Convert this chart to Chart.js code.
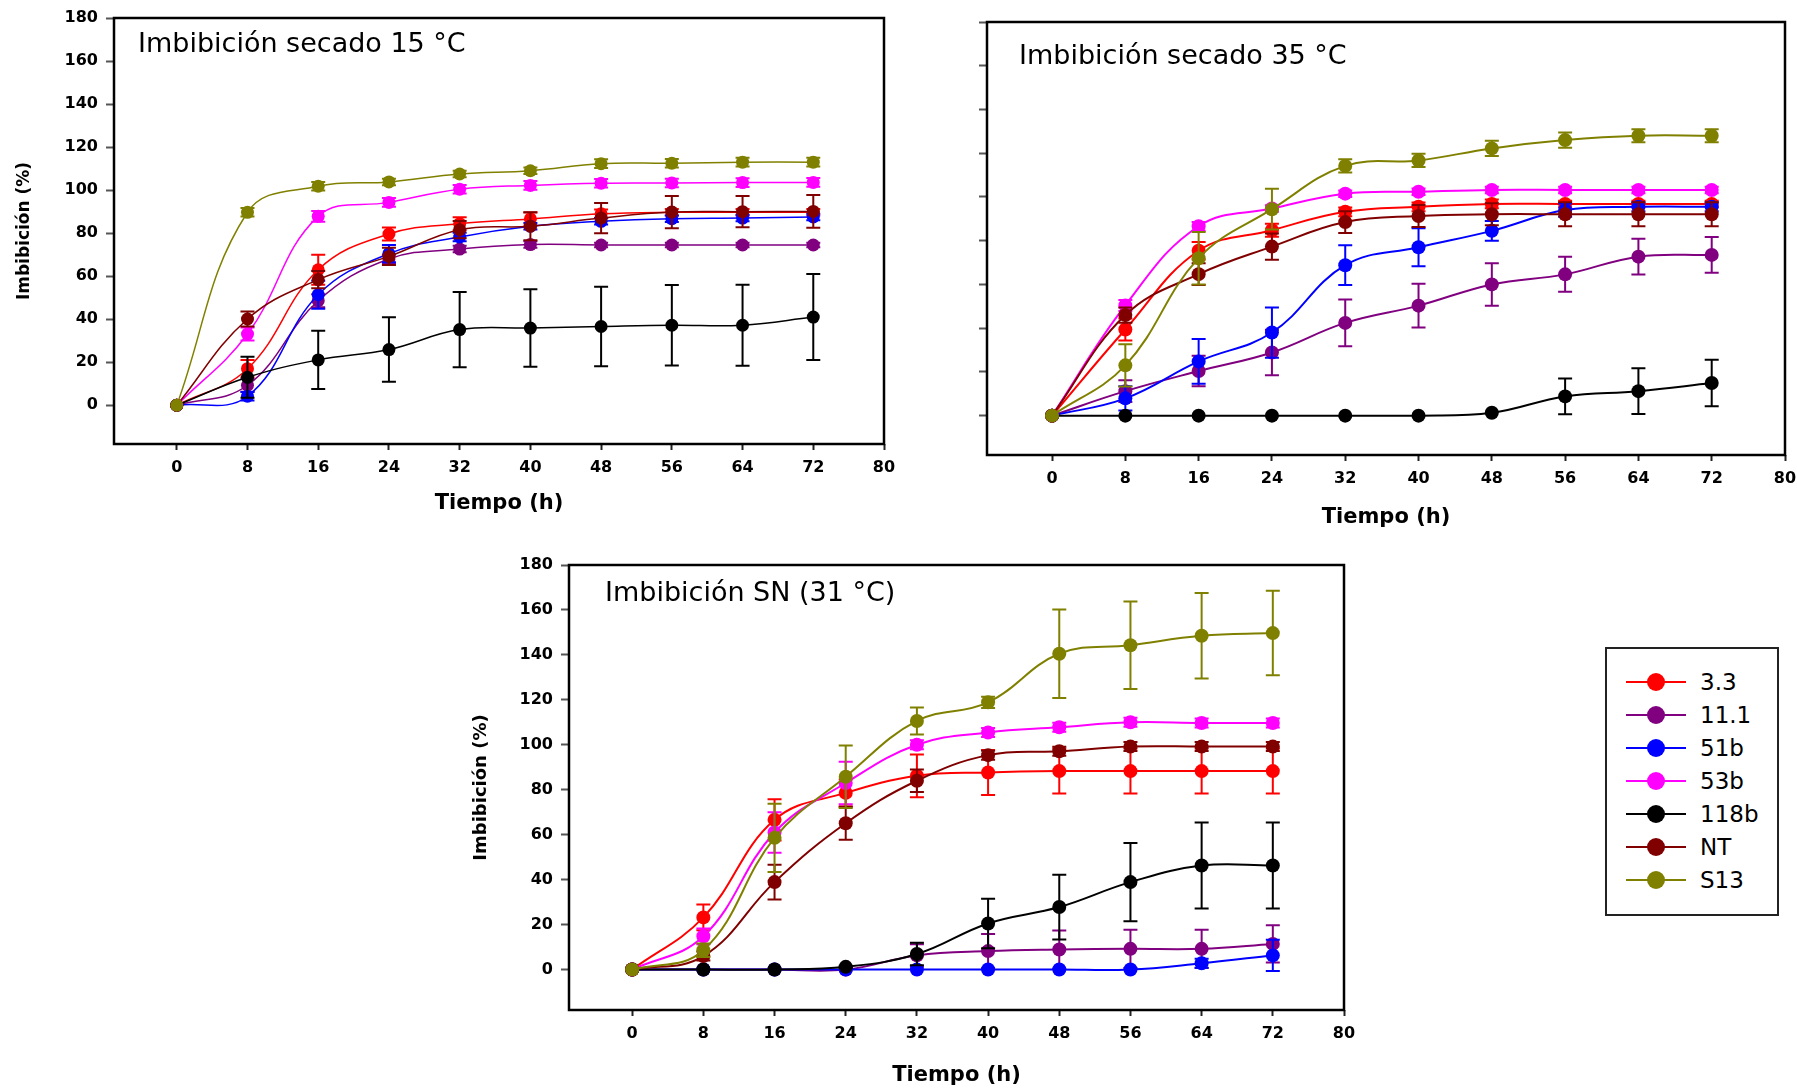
<!DOCTYPE html>
<html>
<head>
<meta charset="utf-8">
<script src="https://cdn.jsdelivr.net/npm/chart.js@4"></script>
<style>
  body { margin: 0; background: #fff; width: 1797px; height: 1091px; overflow: hidden; position: relative; }
  canvas { position: absolute; }
  #leyenda { position: absolute; left: 1605px; top: 647px; width: 170px; height: 265px; border: 2px solid #222; font-family: "DejaVu Sans", sans-serif; }
  .fila { position: absolute; left: 0; width: 170px; height: 30px; }
  .fila .linea { position: absolute; left: 19px; width: 60px; top: 14px; height: 2px; }
  .fila .punto { position: absolute; left: 40px; top: 6px; width: 18px; height: 18px; border-radius: 50%; }
  .fila .txt { position: absolute; left: 93px; top: 0; font-size: 23px; line-height: 30px; color: #000; }
</style>
</head>
<body>
<canvas id="c15" width="940" height="540" style="left:0px;top:0px"></canvas>
<canvas id="c35" width="857" height="540" style="left:940px;top:0px"></canvas>
<canvas id="cSN" width="940" height="551" style="left:440px;top:540px"></canvas>
<div id="leyenda"></div>

<script>
// datos
const horas = [0, 8, 16, 24, 32, 40, 48, 56, 64, 72];
const ticksX = [0, 8, 16, 24, 32, 40, 48, 56, 64, 72, 80];
const ticksY = [0, 20, 40, 60, 80, 100, 120, 140, 160, 180];
const lineas = ['3.3', '11.1', '51b', '53b', '118b', 'NT', 'S13'];
const colores = ['#ff0000', '#800080', '#0000ff', '#ff00ff', '#000000', '#800000', '#808000'];

// secado 15 °C
const s15_33   = [0, 17, 63, 79.6, 84.4, 86.6, 89, 89.7, 89.7, 89.7];
const s15_111  = [0, 9.3, 48.6, 68, 72.6, 74.7, 74.5, 74.5, 74.5, 74.5];
const s15_51b  = [0, 4.2, 51.4, 70.5, 78.2, 83.2, 85.5, 86.7, 87, 87.5];
const s15_53b  = [0, 33.1, 87.8, 94.3, 100.4, 102.2, 103.2, 103.3, 103.5, 103.6];
const s15_118b = [0, 13, 21.1, 25.9, 35.2, 35.9, 36.6, 37.2, 37.2, 41];
const s15_NT   = [0, 40.1, 58.4, 69.2, 81.6, 83.2, 87, 89.8, 90, 90.1];
const s15_S13  = [0, 89.7, 101.8, 103.8, 107.5, 109, 112.3, 112.5, 113, 113];
const e15_33   = [0, 4, 7, 3, 3, 3, 2, 1.5, 1.5, 1.5];
const e15_111  = [0, 3, 3, 2, 1.5, 1.5, 1, 1, 1, 1];
const e15_51b  = [0, 2, 6.5, 4, 2, 1.5, 1.5, 1.5, 1.5, 1.5];
const e15_53b  = [0, 3, 2.5, 2, 2, 2, 2, 2, 2, 2];
const e15_118b = [0, 9.5, 13.5, 15, 17.5, 18, 18.5, 18.7, 18.8, 20];
const e15_NT   = [0, 3.5, 4, 4, 4, 6.5, 7, 7.5, 7.3, 7.6];
const e15_S13  = [0, 2, 2, 1.5, 1.5, 1.5, 2, 2, 2, 2];

// secado 35 °C
const s35_33   = [0, 39.4, 75.4, 84.8, 93.2, 95.5, 96.8, 96.8, 96.8, 96.8];
const s35_111  = [0, 11.2, 20.4, 28.9, 42.4, 50.3, 60, 64.6, 72.7, 73.5];
const s35_51b  = [0, 7.9, 24.8, 38, 68.8, 77, 84.5, 94, 95.5, 95.5];
const s35_53b  = [0, 50.4, 86.6, 94.7, 101.5, 102.4, 103.2, 103.2, 103.2, 103.2];
const s35_118b = [0, 0, 0, 0, 0, 0, 1.3, 8.8, 11.2, 14.9];
const s35_NT   = [0, 46, 64.7, 77.3, 88.5, 91.3, 92.1, 92.1, 92.1, 92.1];
const s35_S13  = [0, 23, 72, 94.4, 114.2, 116.7, 122.2, 126, 128, 128];
const e35_33   = [0, 5, 4, 3, 2, 2, 2, 1.5, 1.5, 1.5];
const e35_111  = [0, 5, 7, 10.4, 10.7, 10, 9.7, 8, 8.2, 8.2];
const e35_51b  = [0, 5.5, 10.2, 11.5, 9.1, 8.7, 4.5, 3, 2, 2];
const e35_53b  = [0, 2.5, 2, 1.5, 1.5, 1.5, 1.5, 1.5, 1.5, 1.5];
const e35_118b = [0, 0, 0, 0, 0, 0, 0, 8.2, 10.5, 10.6];
const e35_NT   = [0, 3.5, 5, 6, 5, 5, 5, 5.5, 5.5, 5.5];
const e35_S13  = [0, 9.7, 12, 9.3, 3, 3, 3.5, 3.5, 3, 3];

// SN 31 °C
const sSN_33   = [0, 23.2, 66.6, 78.6, 86.2, 87.7, 88.3, 88.3, 88.3, 88.3];
const sSN_111  = [0, 0, 0, 0, 6.3, 8.2, 8.9, 9.2, 9.2, 11.4];
const sSN_51b  = [0, 0, 0, 0, 0, 0, 0, 0, 2.8, 6.3];
const sSN_53b  = [0, 14.8, 61, 83, 100, 105.5, 107.8, 110, 109.7, 109.7];
const sSN_118b = [0, 0, 0, 1.2, 6.9, 20.5, 27.8, 38.9, 46.3, 46.3];
const sSN_NT   = [0, 6, 38.9, 65.1, 84, 95.4, 97.1, 99.2, 99.2, 99.2];
const sSN_S13  = [0, 8.6, 58.6, 85.8, 110.6, 118.9, 140.5, 144.3, 148.5, 149.7];
const eSN_33   = [0, 5.7, 9.2, 6, 9.5, 10, 10, 10, 10, 10];
const eSN_111  = [0, 0, 0, 0, 5, 7.6, 8.5, 8.5, 8.5, 8.3];
const eSN_51b  = [0, 0, 0, 0, 0, 0, 0, 0, 2, 7];
const eSN_53b  = [0, 3.5, 9, 9.5, 2, 2, 2, 2, 2, 2];
const eSN_118b = [0, 0, 0, 0.5, 5, 11, 14.4, 17.4, 19.1, 19.1];
const eSN_NT   = [0, 2, 7.7, 7.3, 5, 2, 2, 2, 2, 2];
const eSN_S13  = [0, 3, 15.2, 13.9, 6, 2.5, 19.7, 19.5, 19, 18.8];


// barras de error, se dibujan antes de cada serie
const barrasError = {
    id: 'barrasError',
    beforeDatasetDraw(chart, args) {
        const ds = chart.data.datasets[args.index];
        if (!ds.errores) return;
        const ctx = chart.ctx;
        const y = chart.scales.y;
        ctx.save();
        ctx.strokeStyle = ds.borderColor;
        ctx.lineWidth = 2;
        args.meta.data.forEach((p, i) => {
            const e = ds.errores[i];
            if (!e) return;
            const v = ds.data[i].y;
            const y1 = y.getPixelForValue(v + e);
            const y2 = y.getPixelForValue(v - e);
            ctx.beginPath();
            ctx.moveTo(p.x, y1); ctx.lineTo(p.x, y2);
            ctx.moveTo(p.x - 7, y1); ctx.lineTo(p.x + 7, y1);
            ctx.moveTo(p.x - 7, y2); ctx.lineTo(p.x + 7, y2);
            ctx.stroke();
        });
        ctx.restore();
    }
};

// marco, titulo del panel y titulos de ejes
const marco = {
    id: 'marco',
    afterDraw(chart, args, o) {
        const {ctx, chartArea: a} = chart;
        ctx.save();
        ctx.lineWidth = 2.5;
        ctx.strokeStyle = '#000';
        ctx.strokeRect(a.left, a.top, a.right - a.left, a.bottom - a.top);
        ctx.fillStyle = '#000';
        ctx.font = '27px "DejaVu Sans"';
        ctx.textBaseline = 'alphabetic';
        ctx.fillText(o.titulo, a.left + o.tx, a.top + o.ty);
        ctx.font = 'bold 21px "DejaVu Sans"';
        ctx.textAlign = 'center';
        ctx.textBaseline = 'middle';
        ctx.fillText('Tiempo (h)', (a.left + a.right) / 2, a.bottom + o.xt);
        if (o.yt) {
            ctx.translate(a.left + o.yx, (a.top + a.bottom) / 2);
            ctx.rotate(-Math.PI / 2);
            ctx.font = 'bold ' + o.yt + 'px "DejaVu Sans"';
            ctx.fillText('Imbibición (%)', 0, 0);
        }
        ctx.restore();
    }
};


function crearPanel(id, series, errores, cfg) {
    let datasets = lineas.map((nombre, i) => ({
        label: nombre,
        data: horas.map((h, j) => ({x: h, y: series[i][j]})),
        errores: errores[i],
        borderColor: colores[i],
        backgroundColor: colores[i],
        borderWidth: cfg.lw,
        pointRadius: cfg.r,
        pointBorderWidth: 0,
        tension: 0.4,
        fill: false,
        order: lineas.length - i
    }));

    new Chart(document.getElementById(id), {
        type: 'line',
        data: { datasets: datasets },
        options: {
            responsive: false,
            animation: false,
            layout: { padding: { left: 0, top: cfg.pt, right: cfg.pr, bottom: 0 } },
            plugins: {
                legend: { display: false },
                tooltip: { enabled: false },
                marco: cfg.marco
            },
            scales: {
                x: {
                    type: 'linear', min: -7.1, max: 80,
                    afterBuildTicks: s => { s.ticks = ticksX.map(v => ({value: v})) },
                    afterFit: s => { s.height = cfg.ax; s.paddingLeft = 0; s.paddingRight = 0 },
                    border: { display: false },
                    grid: { drawOnChartArea: false, tickLength: 6, tickWidth: 2, tickColor: '#222' },
                    ticks: { color: '#000', padding: 8, maxRotation: 0, autoSkip: false,
                             font: { family: 'DejaVu Sans', size: 16, weight: 'bold' } }
                },
                y: {
                    type: 'linear', min: -18, max: 180,
                    afterBuildTicks: s => { s.ticks = ticksY.map(v => ({value: v})) },
                    afterFit: s => { s.width = cfg.ay; s.paddingTop = 0; s.paddingBottom = 0 },
                    border: { display: false },
                    grid: { drawOnChartArea: false, tickLength: 8, tickWidth: 2, tickColor: '#555' },
                    ticks: { color: '#000', padding: 8,
                             callback: v => cfg.sinY ? '' : v,
                             font: { family: 'DejaVu Sans', size: 16, weight: 'bold' } }
                }
            }
        },
        plugins: [barrasError, marco]
    });
}


crearPanel('c15',
    [s15_33, s15_111, s15_51b, s15_53b, s15_118b, s15_NT, s15_S13],
    [e15_33, e15_111, e15_51b, e15_53b, e15_118b, e15_NT, e15_S13],
    { lw: 1.5, r: 6.5, pt: 18, pr: 56, ax: 96, ay: 114,
      marco: { titulo: 'Imbibición secado 15 °C', tx: 24, ty: 34, xt: 60, yt: 17, yx: -89 } });

crearPanel('c35',
    [s35_33, s35_111, s35_51b, s35_53b, s35_118b, s35_NT, s35_S13],
    [e35_33, e35_111, e35_51b, e35_53b, e35_118b, e35_NT, e35_S13],
    { lw: 2, r: 7, pt: 22, pr: 12, ax: 85, ay: 47, sinY: true,
      marco: { titulo: 'Imbibición secado 35 °C', tx: 32, ty: 42, xt: 63 } });

crearPanel('cSN',
    [sSN_33, sSN_111, sSN_51b, sSN_53b, sSN_118b, sSN_NT, sSN_S13],
    [eSN_33, eSN_111, eSN_51b, eSN_53b, eSN_118b, eSN_NT, eSN_S13],
    { lw: 2, r: 7, pt: 25, pr: 36, ax: 81, ay: 129,
      marco: { titulo: 'Imbibición SN (31 °C)', tx: 36, ty: 36, xt: 66, yt: 18, yx: -88 } });


// leyenda
let leyenda = document.getElementById('leyenda');
lineas.forEach((nombre, i) => {
    let fila = document.createElement('div');
    fila.className = 'fila';
    fila.style.top = (18 + i * 33) + 'px';
    fila.innerHTML = '<div class="linea" style="background:' + colores[i] + '"></div>' +
        '<div class="punto" style="background:' + colores[i] + '"></div>' +
        '<div class="txt">' + nombre + '</div>';
    leyenda.appendChild(fila);
});
</script>
</body>
</html>
